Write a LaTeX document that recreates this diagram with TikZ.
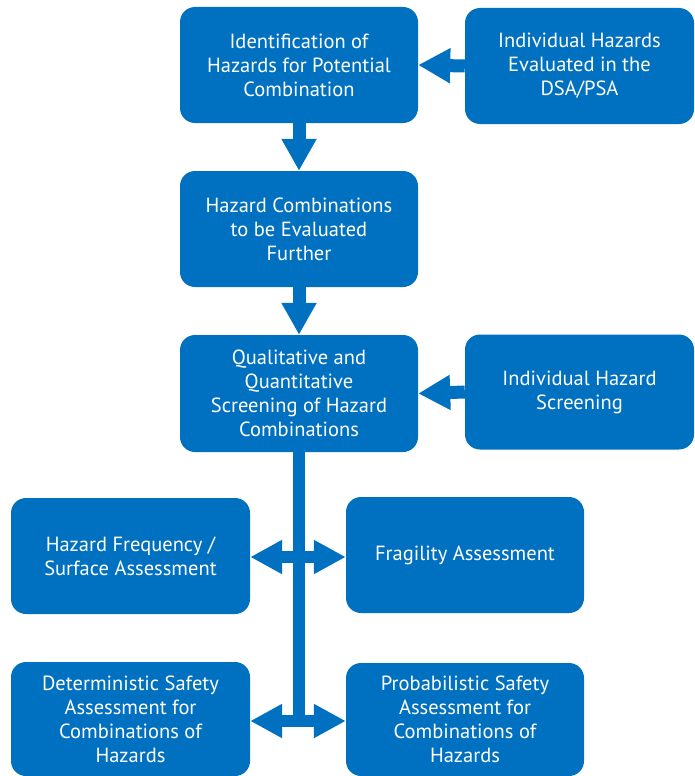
\documentclass[tikz,border=0pt]{standalone}
\usepackage{fontspec}
\setmainfont{PT Sans}
\usetikzlibrary{arrows.meta}
\definecolor{flowblue}{HTML}{0070C0}
\begin{document}
\begin{tikzpicture}[x=1pt,y=-1pt,
  stepbox/.style={fill=flowblue, draw=none, rounded corners=15pt,
    text=white, align=center, inner sep=0pt,
    font=\fontsize{20.5}{24}\selectfont,
    minimum width=#1, minimum height=116pt},
  stepbox/.default=238pt,
  blockarrow/.style={draw=flowblue, line width=13pt,
    -{Triangle[width=33pt,length=32pt]}},
  bothways/.style={draw=flowblue, line width=12pt,
    {Triangle[width=32pt,length=32pt]}-{Triangle[width=32pt,length=32pt]}}]
\useasboundingbox (0,0) rectangle (694,776);

% main column
\node[stepbox] (ident) at (299,65) {Identification of\\Hazards for Potential\\Combination};
\node[stepbox] (comb) at (299,229) {Hazard Combinations\\to be Evaluated\\Further};
\node[stepbox, minimum height=117pt] (screen) at (299,393.5) {Qualitative and\\Quantitative\\Screening of Hazard\\Combinations};

% inputs on the right
\node[stepbox=229pt] (indiv) at (579.5,66) {Individual Hazards\\Evaluated in the\\DSA/PSA};
\node[stepbox=229pt, minimum height=115pt] (indscr) at (579.5,392) {Individual Hazard\\Screening};

% assessment boxes
\node[stepbox=239pt] (freq) at (130.5,556) {Hazard Frequency /\\Surface Assessment};
\node[stepbox] (frag) at (465,555) {Fragility Assessment};
\node[stepbox=239pt, minimum height=114pt] (dsa) at (130.5,719) {Deterministic Safety\\Assessment for\\Combinations of\\Hazards};
\node[stepbox, minimum height=113pt] (psa) at (465,719.5) {Probabilistic Safety\\Assessment for\\Combinations of\\Hazards};

% flow arrows
\draw[blockarrow] (ident.south) -- (comb.north);
\draw[blockarrow] (comb.south) -- (screen.north);
\draw[blockarrow] (indiv.west) -- (ident.east);
\draw[blockarrow] (indscr.west) -- (screen.east);

% trunk and branches
\coordinate (trunkend) at (299,727);
\draw[flowblue, line width=12pt] (screen.south) -- (trunkend);
\draw[bothways] (freq.east |- 0,557) -- (frag.west |- 0,557);
\draw[bothways] (dsa.east |- 0,721) -- (psa.west |- 0,721);
\end{tikzpicture}
\end{document}
